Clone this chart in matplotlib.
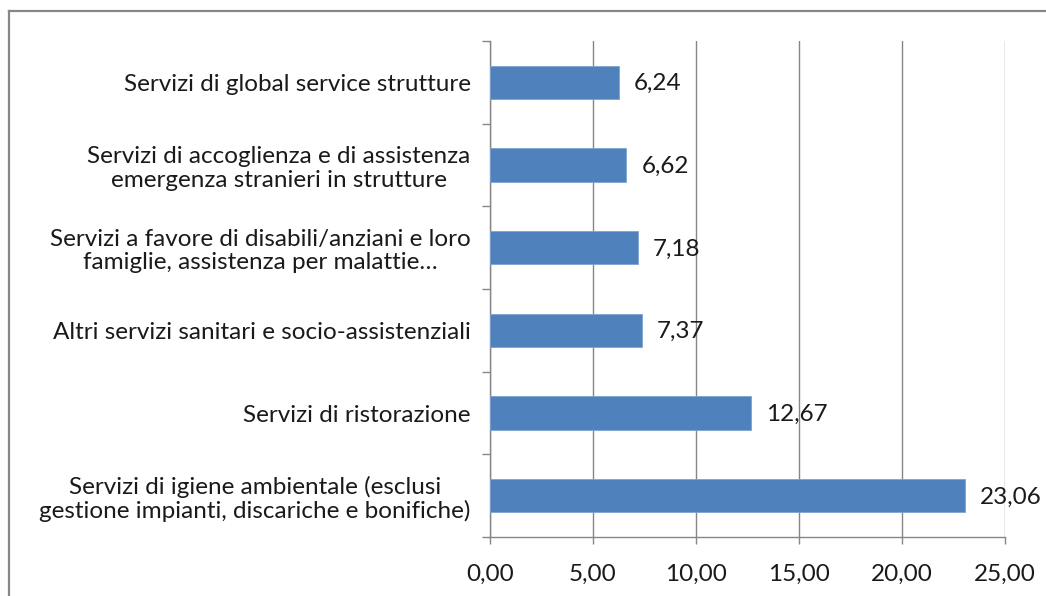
import numpy as np
import matplotlib
matplotlib.use("Agg")
import matplotlib.pyplot as plt
from matplotlib.lines import Line2D

plt.rcParams['font.family'] = ['Lato', 'DejaVu Sans']

categories = [
    "Servizi di global service strutture",
    "Servizi di accoglienza e di assistenza\nemergenza stranieri in strutture",
    "Servizi a favore di disabili/anziani e loro\nfamiglie, assistenza per malattie…",
    "Altri servizi sanitari e socio-assistenziali",
    "Servizi di ristorazione",
    "Servizi di igiene ambientale (esclusi\ngestione impianti, discariche e bonifiche)",
]
values = [6.24, 6.62, 7.18, 7.37, 12.67, 23.06]
xticks = [0, 5, 10, 15, 20, 25]

BAR = '#4F81BD'
GRID = '#868686'
FS = 17.5

fig = plt.figure(figsize=(10.46, 5.96), dpi=100)
ax = fig.add_axes([490/1046, 1 - 537/596, 515/1046, 496/596])

y = np.arange(len(categories))
ax.barh(y, values, height=0.4, color=BAR, edgecolor='#7FA3D1', linewidth=0.6, zorder=3)
ax.set_ylim(len(categories) - 0.5, -0.5)
ax.set_xlim(0, 25)

for yi, v in zip(y, values):
    ax.annotate(f"{v:.2f}".replace('.', ','), (v, yi), xytext=(11, -1),
                textcoords='offset points', va='center', ha='left',
                fontsize=FS, color='#1a1a1a', zorder=4)

ax.set_xticks(xticks)
ax.set_xticklabels([f"{t:.2f}".replace('.', ',') for t in xticks], fontsize=FS)
ax.set_yticks(y)
ax.set_yticklabels(categories, fontsize=FS, multialignment='center', linespacing=1.15)
ax.set_yticks(np.arange(len(categories) + 1) - 0.5, minor=True)
ax.tick_params(axis='y', which='major', length=0, pad=14)
ax.tick_params(axis='y', which='minor', length=6, color=GRID, width=1)
ax.tick_params(axis='x', length=5, color=GRID, width=1, pad=14)
for lbl in ax.get_xticklabels() + ax.get_yticklabels():
    lbl.set_color('#1a1a1a')

ax.grid(axis='x', color=GRID, linewidth=1, zorder=0)
for s in ['top', 'right']:
    ax.spines[s].set_visible(False)
for s in ['left', 'bottom']:
    ax.spines[s].set_color(GRID)
    ax.spines[s].set_linewidth(1)

# outer chart border (only left and top visible in the crop)
fig.add_artist(Line2D([9/1046, 9/1046], [0, 1 - 11/596], color='#878787',
                      linewidth=1.6, transform=fig.transFigure))
fig.add_artist(Line2D([9/1046, 1], [1 - 11/596, 1 - 11/596], color='#878787',
                      linewidth=1.6, transform=fig.transFigure))

fig.savefig('out.png', dpi=100)
